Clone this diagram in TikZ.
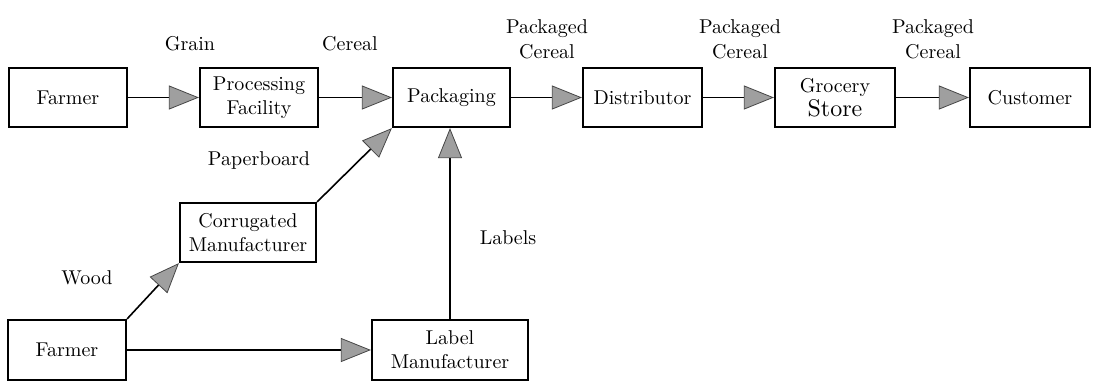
\documentclass[tikz,border=0pt]{standalone}
\usepackage{fontspec}
\newfontfamily\lmten{lmroman10-regular.otf}
\usetikzlibrary{arrows.meta}
\begin{document}
\begin{tikzpicture}[x=1pt,y=-1pt,
 box/.style={draw, line width=2.2pt, minimum height=59pt, align=center, inner sep=0pt,
   font=\lmten\fontsize{20}{24}\selectfont},
 lbl/.style={align=center, inner sep=0pt, font=\lmten\fontsize{20}{25}\selectfont},
 flow/.style={line width=1.6pt,
   -{Triangle[length=30pt,width=24pt,fill=gray!75,color=gray!55!black,line width=0.8pt]}}]
\useasboundingbox (0,0) rectangle (1099,389);
% top row
\node[box, minimum width=118pt] (f1) at (68,97.5) {Farmer};
\node[box, minimum width=118pt] (pf) at (259,97.5) {Processing\\Facility};
\node[box, minimum width=117pt] (pk) at (451.5,97.5) {Packaging};
\node[box, minimum width=119pt] (di) at (642.5,97.5) {Distributor};
\node[box, minimum width=120pt] (gs) at (835,97.5) {Grocery\\{\fontsize{24}{24}\selectfont Store}};
\node[box, minimum width=120pt] (cu) at (1030,97.5) {Customer};
% lower nodes
\node[box, minimum width=136pt] (cm) at (248,232.5) {Corrugated\\Manufacturer};
\node[box, minimum width=118pt, minimum height=60pt] (f2) at (67,350) {Farmer};
\node[box, minimum width=156pt, minimum height=60pt] (lm) at (450,350) {Label\\Manufacturer};
% labels
\node[lbl] (tGrain) at (190,44) {Grain};
\node[lbl] (tCereal) at (350,44) {Cereal};
\node[lbl] (tPC1) at (547,39) {Packaged\\Cereal};
\node[lbl] (tPC2) at (740,39) {Packaged\\Cereal};
\node[lbl] (tPC3) at (933,39) {Packaged\\Cereal};
\node[lbl] (tPaper) at (259,160) {Paperboard};
\node[lbl] (tWood) at (87,278) {Wood};
\node[lbl] (tLabels) at (508,238) {Labels};
% connectors
\draw[flow] (f1.east) -- (pf.west);
\draw[flow] (pf.east) -- (pk.west);
\draw[flow] (pk.east) -- (di.west);
\draw[flow] (di.east) -- (gs.west);
\draw[flow] (gs.east) -- (cu.west);
\draw[flow] (cm.north east) -- (pk.south west);
\draw[flow] (f2.north east) -- (cm.south west);
\draw[flow] (f2.east) -- (lm.west);
\draw[flow] (lm.north) -- (lm.north |- pk.south);
\end{tikzpicture}
\end{document}
